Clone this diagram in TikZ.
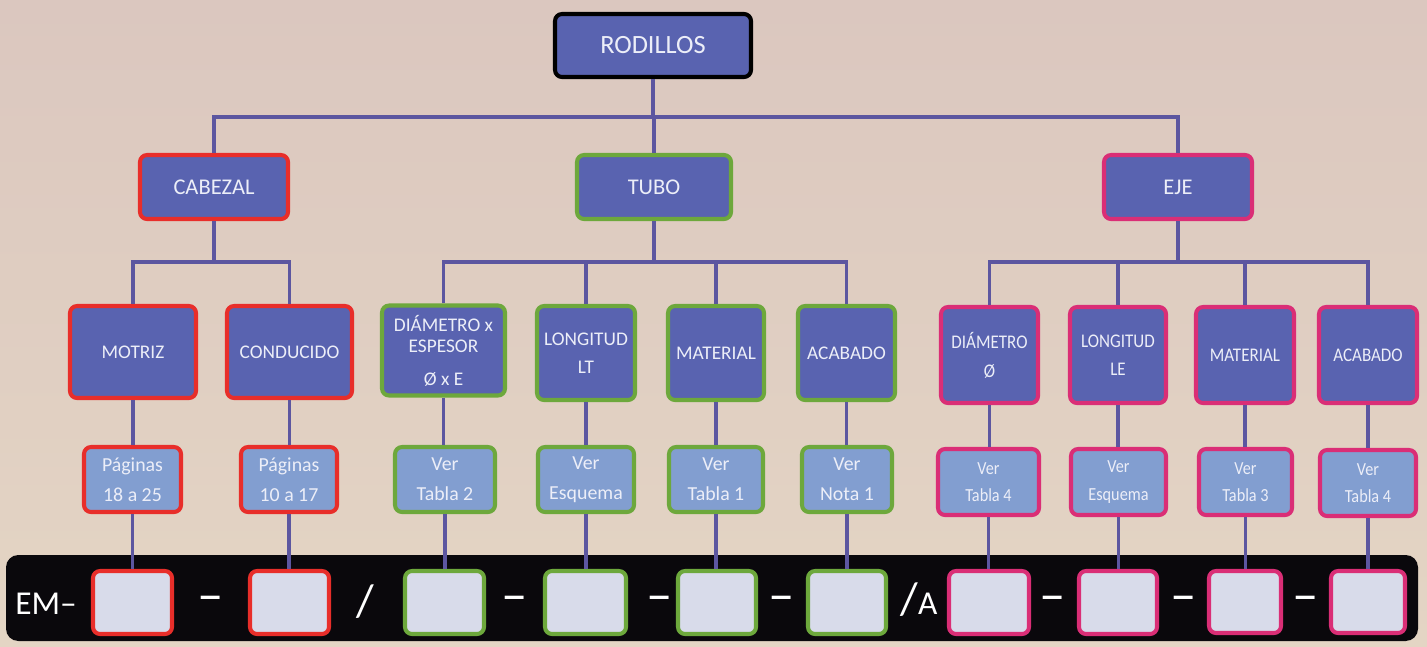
\documentclass[tikz,border=0pt]{standalone}
\usepackage{fontspec}
\setmainfont{Carlito}
\newfontfamily\condfont{Carlito}[FakeStretch=0.88]
\newcommand\fsz[2]{\fontsize{#1}{#2}\selectfont}
\definecolor{bgtop}{RGB}{219,199,191}
\definecolor{bgbot}{RGB}{228,213,196}
\definecolor{darkfill}{RGB}{89,99,176}
\definecolor{lightfill}{RGB}{130,158,208}
\definecolor{sqfill}{RGB}{216,219,234}
\definecolor{redb}{RGB}{232,46,42}
\definecolor{greenb}{RGB}{109,168,60}
\definecolor{pinkb}{RGB}{218,46,118}
\definecolor{conncol}{RGB}{92,86,160}
\definecolor{txtcol}{RGB}{236,238,248}
\definecolor{barcol}{RGB}{10,8,12}
\begin{document}
\begin{tikzpicture}[x=0.02cm,y=-0.02cm,
  sz/.style 2 args={minimum width={(#1-4)*0.02cm}, minimum height={(#2-4)*0.02cm}},
  bx/.style={rounded corners=4pt, line width=2.3pt, inner sep=0pt, align=center, text=txtcol},
  dark/.style={bx, fill=darkfill},
  light/.style={bx, fill=lightfill},
  sqbox/.style={bx, fill=sqfill},
  rb/.style={draw=redb},
  gb/.style={draw=greenb},
  pb/.style={draw=pinkb},
  lvtwo/.style={font=\fsz{12.8}{15}},
  lvthree/.style={font=\fsz{11}{12}},
  lvthreep/.style={font=\condfont\fsz{11}{12}},
  lvfour/.style={font=\fsz{11.3}{12}},
  lvfourp/.style={font=\condfont\fsz{10.5}{12}},
  conn/.style={draw=conncol, line width=2.1pt},
  septxt/.style={text=white, inner sep=0pt, font=\fsz{30}{30}}
]
\useasboundingbox (0,0) rectangle (1427,646);
\fill[top color=bgtop, bottom color=bgbot] (0,0) rectangle (1427,646);
% bottom bar
\fill[barcol, rounded corners=7pt] (6,555) rectangle (1418,641);

% level 1
\node[dark, draw=black, sz={200}{67}, font=\fsz{15}{18}] (rod) at (653,45.5) {RODILLOS};
% level 2
\node[dark, rb, sz={152}{68}, lvtwo] (cab) at (214,187) {CABEZAL};
\node[dark, gb, sz={158}{68}, lvtwo] (tubo) at (654,187) {TUBO};
\node[dark, pb, sz={152}{68}, lvtwo] (eje) at (1178,187) {EJE};
% level 3
\node[dark, rb, sz={130}{96}, lvthree] (mot) at (133,352) {MOTRIZ};
\node[dark, rb, sz={129}{96}, lvthree] (con) at (289.5,352) {CONDUCIDO};
\node[dark, gb, sz={127}{94}, lvthree] (dia) at (443.5,350.5) {DIÁMETRO x\\ESPESOR\\[6.7pt]Ø x E};
\node[dark, gb, sz={102}{98}, lvthree] (lont) at (586,353) {LONGITUD\\[4pt]LT};
\node[dark, gb, sz={100}{98}, lvthree] (matt) at (716,353) {MATERIAL};
\node[dark, gb, sz={101}{98}, lvthree] (acat) at (846.5,353) {ACABADO};
\node[dark, pb, sz={101}{100}, lvthreep] (diae) at (989.5,355) {DIÁMETRO\\[4.5pt]Ø};
\node[dark, pb, sz={100}{100}, lvthreep] (lone) at (1118,355) {LONGITUD\\[4pt]LE};
\node[dark, pb, sz={102}{100}, lvthreep] (mate) at (1245,355) {MATERIAL};
\node[dark, pb, sz={102}{100}, lvthreep] (acae) at (1368,355) {ACABADO};
% level 4
\node[light, rb, sz={101}{69}, lvfour] (pa) at (132.5,479.5) {Páginas\\[5pt]18 a 25};
\node[light, rb, sz={100}{69}, lvfour] (pb) at (289,479.5) {Páginas\\[5pt]10 a 17};
\node[light, gb, sz={104}{69}, lvfour] (va) at (445,479.5) {Ver\\[5pt]Tabla 2};
\node[light, gb, sz={100}{69}, lvfour] (vb) at (586,479.5) {Ver\\[5pt]Esquema};
\node[light, gb, sz={98}{69}, lvfour] (vc) at (716,479.5) {Ver\\[5pt]Tabla 1};
\node[light, gb, sz={94}{69}, lvfour] (vd) at (847,479.5) {Ver\\[5pt]Nota 1};
\node[light, pb, sz={105}{70}, lvfourp] (ve) at (988.5,482) {Ver\\[3.5pt]Tabla 4};
\node[light, pb, sz={99}{70}, lvfourp] (vf) at (1118.5,482) {Ver\\[3.5pt]Esquema};
\node[light, pb, sz={97}{70}, lvfourp] (vg) at (1245.5,482) {Ver\\[3.5pt]Tabla 3};
\node[light, pb, sz={100}{70}, lvfourp] (vh) at (1368,483) {Ver\\[3.5pt]Tabla 4};
% squares
\node[sqbox, rb, sz={83}{67}] (sa) at (132.5,602.5) {};
\node[sqbox, rb, sz={83}{67}] (sb) at (289.5,602.5) {};
\node[sqbox, gb, sz={83}{67}] (sc) at (444.5,602.5) {};
\node[sqbox, gb, sz={85}{67}] (sd) at (585.5,602.5) {};
\node[sqbox, gb, sz={82}{67}] (se) at (717,602.5) {};
\node[sqbox, gb, sz={82}{67}] (sf) at (847,602.5) {};
\node[sqbox, pb, sz={84}{67}] (sg) at (989,602.5) {};
\node[sqbox, pb, sz={82}{67}] (sh) at (1118,602.5) {};
\node[sqbox, pb, sz={76}{66}] (si) at (1245,602) {};
\node[sqbox, pb, sz={78}{66}] (sj) at (1368,602) {};
% code text
\node[anchor=base west, inner sep=0pt, text=white, font=\fsz{19}{20}] (em) at (15,614) {EM–};
\node[septxt] (da) at (211,604) {–};
\node[septxt, font=\fsz{26}{26}] (sl) at (365,601.5) {/};
\node[septxt] (db) at (515,604) {–};
\node[septxt] (dc) at (660,604) {–};
\node[septxt] (dd) at (782,604) {–};
\node[septxt, font=\fsz{26}{26}, anchor=base] (sla) at (919,614) {/{\fsz{19}{20}A}};
\node[septxt] (de) at (1053,604) {–};
\node[septxt] (df) at (1184,604) {–};
\node[septxt] (dg) at (1306,604) {–};

% connectors
\coordinate (bz) at (653,117);
\coordinate (ba) at (214,262);
\coordinate (bb) at (654,262);
\coordinate (bc) at (1178,262);
\draw[conn] (rod.south) -- (bz);
\draw[conn] (cab.north) |- (bz);
\draw[conn] (eje.north) |- (bz);
\draw[conn] (tubo.north) |- (bz);
\draw[conn] (cab.south) -- (ba);
\draw[conn] (mot.north) |- (ba);
\draw[conn] (con.north) |- (ba);
\draw[conn] (tubo.south) -- (bb);
\draw[conn] (dia.north) |- (bb);
\draw[conn] (lont.north) |- (bb);
\draw[conn] (matt.north) |- (bb);
\draw[conn] (acat.north) |- (bb);
\draw[conn] (eje.south) -- (bc);
\draw[conn] (diae.north) |- (bc);
\draw[conn] (lone.north) |- (bc);
\draw[conn] (mate.north) |- (bc);
\draw[conn] (acae.north) |- (bc);
\foreach \u/\v/\w in {mot/pa/sa, con/pb/sb, dia/va/sc, lont/vb/sd, matt/vc/se, acat/vd/sf, diae/ve/sg, lone/vf/sh, mate/vg/si, acae/vh/sj}{
  \draw[conn] (\u.south) -- (\u.south |- \v.north);
  \draw[conn] (\v.south) -- (\v.south |- \w.north);
}
\end{tikzpicture}
\end{document}
